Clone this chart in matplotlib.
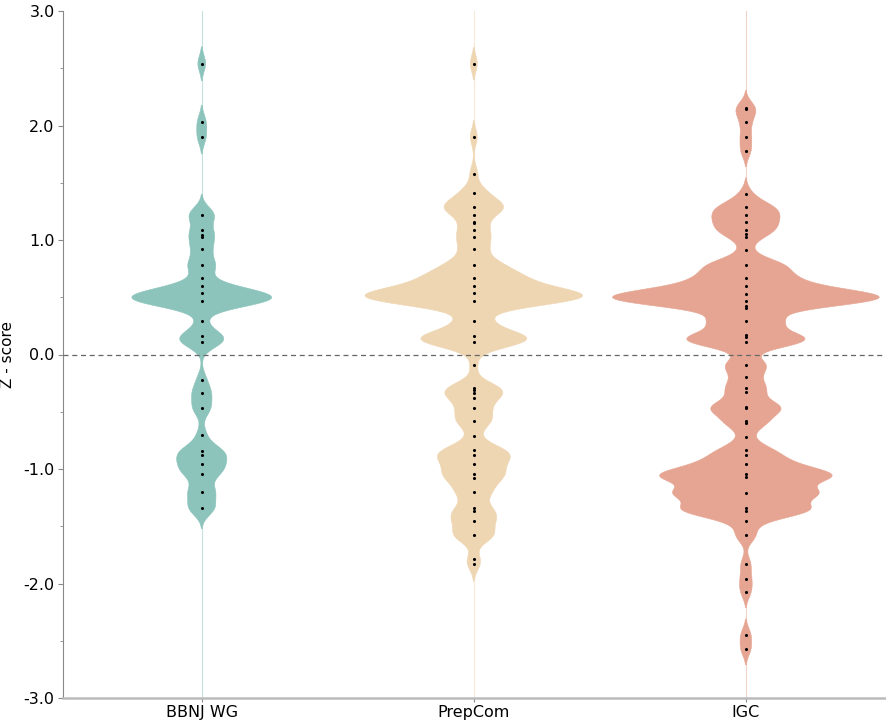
import numpy as np
import matplotlib.pyplot as plt

categories = ["BBNJ WG", "PrepCom", "IGC"]

# z-score levels seen as dots, and how many responses sit on each level
bbnj_values = [2.54, 2.03, 1.90, 1.22, 1.09, 1.04, 1.03, 0.92, 0.78, 0.67, 0.60, 0.54, 0.47,
               0.29, 0.16, 0.11, -0.22, -0.34, -0.47, -0.70, -0.84, -0.88, -0.96, -1.04,
               -1.20, -1.34]
bbnj_counts = [1, 1, 1, 3, 1, 1, 1, 2, 3, 1, 1, 8, 12,
               1, 3, 3, 1, 2, 2, 1, 3, 2, 3, 3,
               3, 3]

prepcom_values = [2.54, 1.90, 1.58, 1.41, 1.29, 1.22, 1.16, 1.15, 1.09, 1.03, 0.92, 0.78, 0.67,
                  0.60, 0.54, 0.47, 0.29, 0.16, 0.11, -0.09, -0.29, -0.31, -0.34, -0.38, -0.47,
                  -0.58, -0.71, -0.83, -0.88, -0.96, -1.04, -1.08, -1.20, -1.34, -1.37, -1.45,
                  -1.58, -1.79, -1.83]
prepcom_counts = [1, 1, 1, 3, 7, 1, 1, 1, 1, 3, 3, 6, 10,
                  2, 17, 17, 4, 8, 8, 1, 3, 2, 2, 2, 3,
                  4, 1, 4, 5, 4, 3, 4, 4, 2, 2, 4,
                  5, 1, 1]

igc_values = [2.15, 2.14, 2.03, 1.90, 1.78, 1.40, 1.29, 1.22, 1.16, 1.09, 1.05, 1.03, 0.91,
              0.78, 0.67, 0.60, 0.53, 0.47, 0.42, 0.41, 0.29, 0.17, 0.15, 0.11, -0.09, -0.20,
              -0.29, -0.33, -0.46, -0.47, -0.58, -0.60, -0.72, -0.83, -0.88, -0.96, -1.04,
              -1.07, -1.21, -1.34, -1.37, -1.45, -1.58, -1.83, -1.96, -2.07, -2.45, -2.57]
igc_counts = [1, 1, 1, 1, 1, 1, 4, 3, 3, 3, 1, 1, 1,
              7, 7, 4, 15, 15, 2, 2, 7, 3, 3, 8, 4, 2,
              2, 2, 4, 3, 2, 2, 1, 3, 3, 6, 5,
              12, 14, 7, 6, 2, 2, 1, 1, 1, 1, 1]

groups = [(bbnj_values, bbnj_counts), (prepcom_values, prepcom_counts), (igc_values, igc_counts)]

colors = ["#8cc4bc", "#efd6b3", "#e6a592"]
bandwidths = [0.07, 0.07, 0.065]
half_widths = [0.257, 0.40, 0.49]

fig = plt.figure(figsize=(8.86, 7.22), dpi=100)
ax = fig.add_axes([63 / 886, 24 / 722, 823 / 886, 687 / 722])

y = np.linspace(-3, 3, 2401)
for i, (vals, cnts) in enumerate(groups):
    vals = np.array(vals)
    cnts = np.array(cnts, dtype=float)
    dens = (cnts[None, :] * np.exp(-0.5 * ((y[:, None] - vals[None, :]) / bandwidths[i]) ** 2)).sum(axis=1)
    w = dens / dens.max() * half_widths[i]
    # faint spine over the whole range
    ax.plot([i, i], [-3, 3], color=colors[i], lw=0.8, alpha=0.5, zorder=1)
    ax.fill_betweenx(y, i - w, i + w, where=w > 0.0015, facecolor=colors[i],
                     edgecolor=colors[i], lw=0.4, zorder=2)
    ax.scatter(np.full(len(vals), i), vals, s=5, color="black", lw=0, zorder=4)

ax.axhline(0, color="#666666", lw=0.9, ls=(0, (4, 3)), zorder=3)

ax.set_xlim(-0.51, 2.515)
ax.set_ylim(-3, 3)
ax.set_xticks(range(len(categories)))
ax.set_xticklabels(categories, fontsize=11.5)
yt = np.arange(-3, 3.01, 1.0)
ax.set_yticks(yt)
ax.set_yticklabels([f"{v:.1f}" for v in yt], fontsize=11.5)
ax.set_yticks(np.arange(-2.5, 3, 1.0), minor=True)
ax.tick_params(axis="y", which="major", length=3.5, color="#888888", pad=2.5)
ax.tick_params(axis="y", which="minor", length=2, color="#888888")
ax.tick_params(axis="x", length=3, color="#888888", pad=2)

for s in ["top", "right"]:
    ax.spines[s].set_visible(False)
ax.spines["left"].set_color("#888888")
ax.spines["left"].set_linewidth(0.8)
ax.spines["bottom"].set_color("#bbbbbb")
ax.spines["bottom"].set_linewidth(1.8)

ax.set_ylabel("Z - score", fontsize=11)
ax.yaxis.set_label_coords(-0.058, 0.5)

fig.savefig("out.png", dpi=100)
